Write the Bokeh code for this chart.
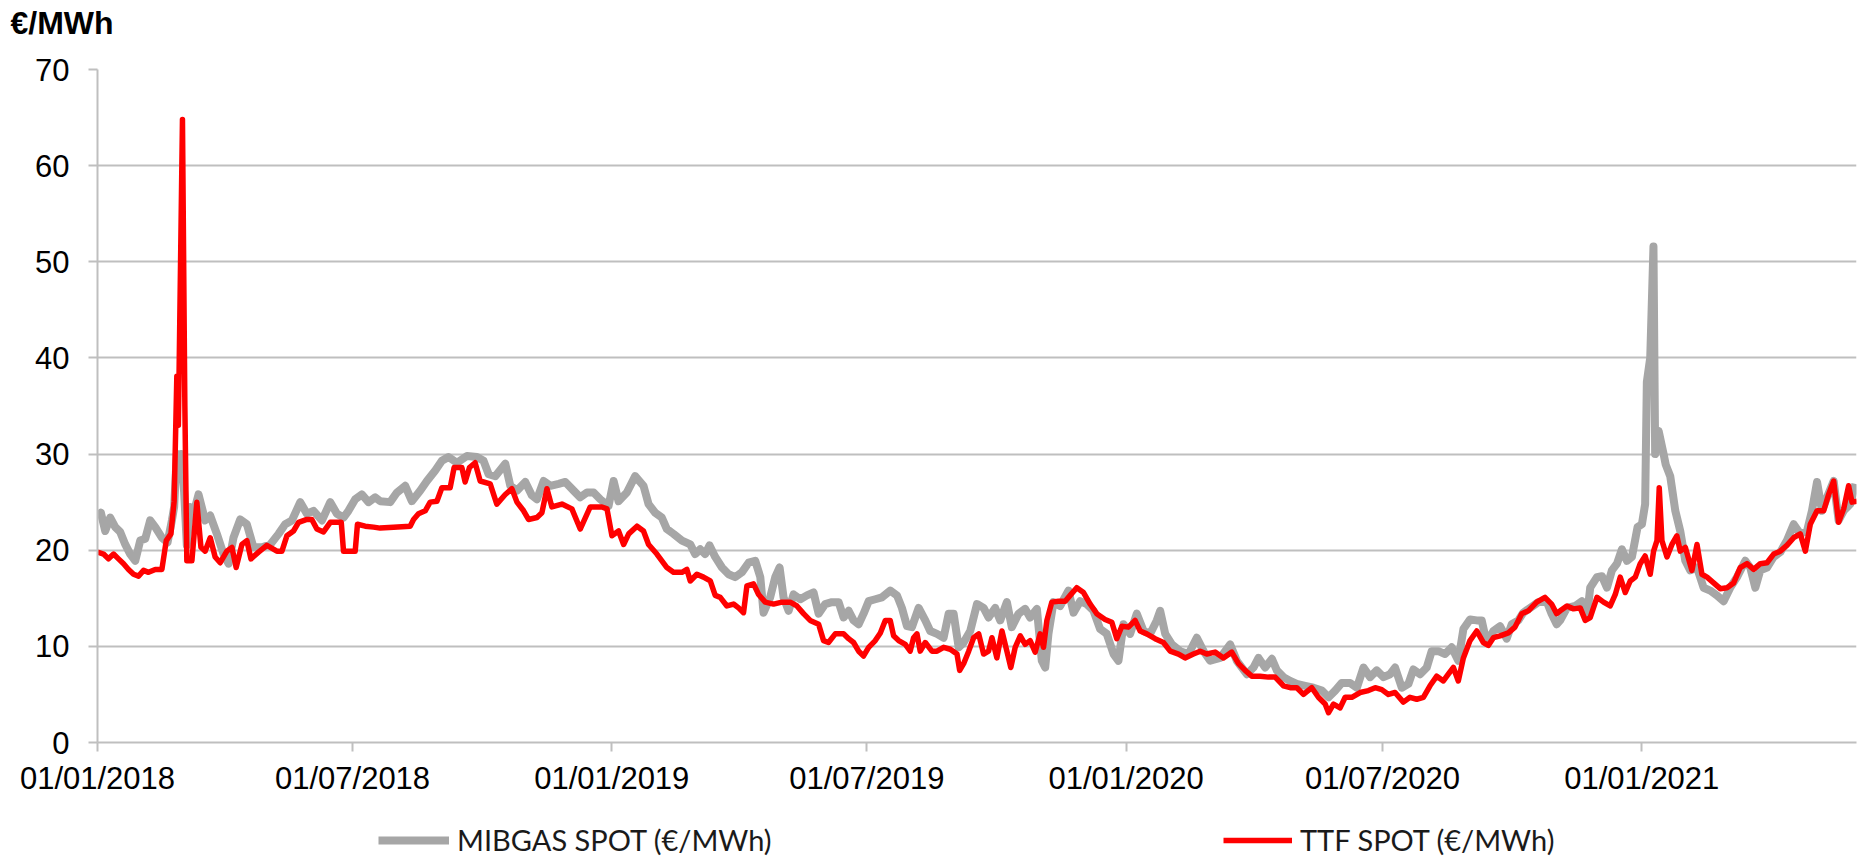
import pandas as pd
from bokeh.plotting import figure
from bokeh.layouts import column
from bokeh.models import (Range1d, FixedTicker, DatetimeTickFormatter, Legend,
                          LegendItem, Label)
from bokeh.embed import file_html
from bokeh.resources import INLINE

# ---------------- data ----------------
start_date = "2018-01-01"

# days after 01/01/2018, MIBGAS spot (EUR/MWh)
mib_days = [0, 2.4, 5.5, 9, 12.6, 16.1, 19.7, 23.2, 26.8, 30.3, 33.9, 37.4, 41, 45.7, 49.7, 52.8,
            54.4, 56.3, 57.5, 59.5, 61.5, 63.4, 65.8, 68.1, 71.7, 76.4, 80, 84.7, 89.4, 93, 96.5,
            101.3, 106, 110.7, 116.7, 122.6, 128.5, 133.2, 138, 143.9, 148.6, 153.3, 159.3, 165.2,
            169.9, 174.6, 178.1, 182.9, 187.6, 192.3, 197.1,
            200.6, 207.7, 212.5, 218.4, 223.1, 229.1, 233.8, 239.7, 244.4, 249.1, 255.1, 262.2,
            269.3, 274, 277.6, 282.3, 289.4, 293, 297.7, 303.6, 308.3, 311.9, 316.6, 321.4, 327.3,
            332, 337.9, 342.6, 347.4, 352.1, 356.8, 362.7, 366.3, 369.8, 375.7, 381.6, 387.5,
            391.1, 395.8, 400.5, 404.1, 408.8, 414.8,
            420.7, 424.2, 427.8, 431.3, 434.4, 438.4, 443.2, 447.9, 452.6, 457.3, 462.1, 466.8,
            470.4, 472.7, 477.4, 481, 484.1, 486.9, 490.5, 494, 498.8, 503.5, 508.2, 511.8, 516.5,
            521.2, 526, 529.5, 533.1, 536.6, 540.2, 543.7, 547.3, 552, 556.7, 562.6, 567.4, 570.9,
            574.5, 578, 582.8, 587.5, 591, 595.8, 600.5, 604.1, 607.6, 611.2, 614.7, 619.4, 624.2,
            628.9, 632.4,
            637.1, 640.7, 645.4, 648.9, 653.7, 658.4, 661.9, 666.7, 670.2, 672.6, 674.9, 678.5,
            683.2, 689.1, 692.7, 697.4, 702.1, 706.9, 711.6, 716.3, 721.1, 724.6, 728.2, 732.9,
            737.6, 742.4, 747.1, 751.8, 754.2, 757.8, 762.5, 768.4, 774.3, 780.2, 785, 789.7,
            796.8, 803.9, 808.6, 815.7, 820.4, 824, 828.7, 833.5, 837, 841.7,
            846.5, 851.2, 857.1, 863, 869, 873.7, 878.4, 883.1, 889, 893.8, 898.5, 903.2, 907.9,
            912.7, 917.4, 920.9, 925.7, 930.4, 933.9, 938.7, 943.4, 946.9, 951.7, 956.4, 961.1,
            965.8, 969.4, 974.1, 978.9, 982.4, 985.9, 990.7, 995.4, 1000.1, 1003.7, 1008.4,
            1011.9, 1016.7, 1022.6, 1028.5, 1032, 1035.6,
            1038.1, 1042.9, 1048.8, 1053.5, 1057.1, 1059.4, 1064.2, 1067.7, 1071.3, 1074.8,
            1078.4, 1081.9, 1085.5, 1089, 1093, 1096.1, 1098.4, 1099.6, 1102, 1104.3, 1105.5,
            1108, 1111.5, 1113, 1116.2, 1119.8, 1123.3, 1126.9, 1130.4, 1135.2, 1139.9, 1144.6,
            1149.4, 1154.1, 1158.8, 1163.6, 1169.5, 1173, 1176.6, 1180.1, 1184.9, 1189.6, 1194.3,
            1199, 1203.8, 1208.5, 1213.3, 1216.8, 1220.4, 1223.9, 1227.5, 1232.2, 1235.7, 1239.3,
            1244, 1247.6]
mib_vals = [23.6, 23.9, 22.0, 23.4, 22.4, 21.9, 20.6, 19.6, 18.9, 21.0, 21.2, 23.1, 22.4, 21.3, 20.8, 23.1,
            24.5, 30.0, 28.0, 30.0, 26.0, 20.5, 24.5, 23.8, 25.8, 23.1, 23.6, 21.7, 19.6, 18.6, 21.3,
            23.2, 22.7, 20.3, 20.3, 20.6, 21.7, 22.7, 23.1, 25.0, 23.8, 24.1, 23.1, 25.0,
            23.8, 23.4, 24.1, 25.3, 25.8, 25.0, 25.5,
            25.1, 25.0, 26.0, 26.7, 25.1, 26.2, 27.2, 28.3, 29.3, 29.7, 29.1, 29.8,
            29.7, 29.3, 27.9, 27.7, 29.0, 26.7, 26.2, 27.1, 25.7, 25.3, 27.2, 26.7, 26.9,
            27.1, 26.2, 25.5, 26.0, 26.0, 25.3, 24.6, 27.2, 25.1, 26.0, 27.7, 26.7,
            24.8, 23.9, 23.4, 22.2, 21.7, 21.0,
            20.6, 19.6, 20.1, 19.6, 20.5, 19.3, 18.2, 17.5, 17.2, 17.7, 18.7, 18.9,
            17.2, 13.5, 15.1, 17.2, 18.2, 15.1, 13.7, 15.4, 14.9, 15.3, 15.6, 13.4, 14.4,
            14.6, 14.6, 13.0, 13.7, 12.7, 12.3, 13.4, 14.7, 14.9, 15.1, 15.8, 15.3, 14.0,
            12.1, 12.0, 14.0, 12.7, 11.6, 11.3, 10.9, 13.4, 13.4, 9.9, 10.4, 11.6, 14.4,
            14.0, 13.0,
            14.0, 12.7, 14.6, 12.0, 13.4, 13.9, 13.0, 13.9, 8.5, 7.8, 11.3, 14.6,
            14.2, 15.8, 13.5, 14.7, 14.4, 13.7, 11.8, 11.3, 9.2, 8.5, 12.3, 11.3,
            13.4, 11.6, 11.3, 12.7, 13.7, 11.3, 10.2, 9.5, 9.2, 10.9, 9.5, 8.5,
            8.8, 10.2, 8.5, 7.1, 7.8, 8.8, 7.8, 8.7, 7.5, 6.8,
            6.4, 6.1, 5.9, 5.7, 5.4, 4.7, 5.4, 6.2, 6.2, 5.7, 7.8, 6.8, 7.5,
            6.8, 7.1, 7.8, 5.7, 6.1, 7.6, 7.1, 7.8, 9.5, 9.5, 9.2, 9.9,
            8.5, 11.8, 12.8, 12.7, 12.7, 10.4, 11.6, 12.1, 10.8, 12.3, 12.7,
            13.5, 14.0, 14.6, 14.7, 13.4, 12.3,
            12.7, 14.0, 14.2, 14.7, 13.0, 16.1, 17.2, 17.3, 16.1, 17.9,
            18.6, 20.1, 18.9, 19.3, 22.4, 22.7, 24.8, 37.5, 40.0, 51.6, 30.0,
            32.4, 30.0, 28.9, 27.7, 24.1, 22.0, 18.9, 17.9, 18.2, 16.1, 15.8,
            15.3, 14.7, 16.1, 17.2, 18.9, 18.2, 16.1, 17.9, 18.2, 19.3, 19.8,
            21.0, 22.7, 21.7, 22.0, 24.1, 27.1, 24.1, 25.5, 27.2, 23.1, 24.1,
            24.8, 26.9]

# days after 01/01/2018, TTF spot (EUR/MWh)
ttf_days = [0, 4.3, 7.8, 11.4, 14.9, 18.5, 22, 25.6, 29.1, 32.7, 36.2, 41, 45.7, 48.8, 52.1, 54.4,
            56.3, 57.4, 60.3, 62, 63.4, 67, 70.5, 73.4, 76.4, 80, 83.5, 87.1, 91.8, 95.4, 98.4,
            102.5, 106, 108.9, 114.3, 120.2, 127.3, 130.9, 134.4, 139.1, 142.7, 148.6, 152.1,
            155.7, 160.4, 165.2, 173, 174.6, 182.9, 184.5, 190, 195.9,
            200.6, 210.1, 221.9, 224.3, 227.8, 232.6, 236.1, 240.9, 244.4, 250.3, 253.1, 258.6,
            260.9, 264, 268, 271.6, 278.7, 283.4, 289.4, 294.1, 297.7, 302.4, 305.9, 311.9, 315.4,
            319, 322.5, 329.6, 336.7, 342.6, 349.7, 358, 361.6, 365.1, 369.8, 373.4, 377, 382.9,
            387.5, 391.1, 397, 404.1, 408.8, 414.8, 418.3,
            420.7, 425.4, 430.1, 434.9, 438.4, 442, 446.7, 451.4, 455, 458.5, 460.9, 465.6, 469.2,
            473.9, 479.8, 485.7, 491.6, 496.4, 501.1, 505.8, 511.8, 515.3, 518.8, 523.6, 529.5,
            533.1, 536.6, 540.2, 543.7, 547.3, 552, 555.6, 559.1, 562.6, 565, 568.6, 573.3, 576.8,
            579.2, 581.6, 583.9, 587.5, 592.2, 595.8, 600.5, 605.2, 610, 611.9, 614.7, 618.3,
            621.8, 625.4, 628.9, 632.4, 634.8, 638.3, 641.9,
            645.4, 648.2, 651.3, 654.9, 658.4, 661.9, 665.5, 669, 671.4, 673.8, 677.3, 682, 686.8,
            690.3, 695, 699.8, 704.5, 709.2, 715.1, 719.9, 723.4, 727, 731.7, 736.4, 740, 744.7,
            750.6, 756.5, 761.3, 767.2, 771.9, 777.8, 782.6, 787.3, 793.2, 799.1, 805, 809.8,
            814.5, 819.2, 825.1, 831, 835.8, 841.7,
            846.5, 851.2, 855.9, 861.8, 866.5, 871.3, 873.7, 877.2, 881.9, 885.5, 890.2, 896.1,
            902, 906.8, 911.5, 916.2, 920.9, 926.8, 931.5, 936.3, 941, 945.7, 950.5, 955.2, 958.7,
            962.3, 965.8, 969.4, 974.1, 978.9, 983.6, 987.1, 990.7, 995.4, 1001.3, 1006, 1010.8,
            1015.5, 1021.4, 1027.3, 1032, 1035.6,
            1038.1, 1042.9, 1047.6, 1052.3, 1055.9, 1059.4, 1064.2, 1068.9, 1073.6, 1077.2,
            1080.7, 1084.3, 1087.8, 1091.4, 1094.9, 1098.4, 1102, 1104.4, 1106.8, 1108.4, 1110.3,
            1113.9, 1117.4, 1120.9, 1123.3, 1126.9, 1131.6, 1135.2, 1138.7, 1142.3, 1147, 1151.7,
            1156.5, 1161.2, 1165.9, 1170.7, 1175.4, 1180.1, 1184.9, 1189.6, 1194.3, 1199, 1203.8,
            1208.5, 1212.1, 1215.6, 1220.4, 1225.1, 1228.6, 1232.2, 1235.7, 1239.3, 1242.8,
            1245.2, 1248.8]
ttf_vals = [19.8, 19.6, 19.1, 19.6, 19.1, 18.6, 18.0, 17.5, 17.3, 17.9, 17.7, 18.0, 18.0, 21.0, 21.7, 25.1,
            38.1, 33.0, 64.8, 35.0, 18.9, 18.9, 25.0, 20.3, 19.9, 21.3, 19.3, 18.7, 19.9, 20.3, 18.2,
            20.6, 21.0, 19.1, 19.8, 20.5, 19.9, 19.9, 21.5, 22.0, 22.9, 23.2, 23.2,
            22.2, 21.9, 22.9, 22.9, 19.9, 19.9, 22.7, 22.5, 22.4,
            22.3, 22.4, 22.5, 23.2, 23.8, 24.1, 25.0, 25.1, 26.5, 26.5, 28.6, 28.6,
            27.1, 28.6, 29.1, 27.2, 26.9, 24.8, 25.8, 26.4, 25.0, 24.1, 23.2, 23.4, 23.9,
            26.4, 24.5, 24.8, 24.3, 22.2, 24.5, 24.5, 24.3, 21.5, 22.0, 20.6, 21.7, 22.5,
            22.0, 20.6, 19.6, 18.2, 17.7, 17.7, 18.0,
            16.8, 17.5, 17.2, 16.8, 15.3, 15.1, 14.2, 14.4, 14.0, 13.5, 16.3, 16.5, 15.4,
            14.6, 14.4, 14.6, 14.6, 14.2, 13.4, 12.7, 12.3, 10.6, 10.4, 11.3, 11.3,
            10.8, 10.4, 9.5, 9.0, 9.9, 10.6, 11.4, 12.7, 12.7, 11.1, 10.6, 10.2, 9.5,
            10.9, 11.3, 9.5, 10.4, 9.5, 9.5, 9.9, 9.7, 9.2, 7.5, 8.2, 9.5,
            10.9, 11.3, 9.2, 9.5, 10.9, 8.8, 11.6,
            9.5, 7.8, 9.9, 11.1, 10.2, 10.6, 9.4, 11.3, 9.9, 12.7, 14.6, 14.7, 14.7,
            15.3, 16.1, 15.6, 14.4, 13.4, 12.8, 12.5, 10.8, 12.1, 12.0, 12.7, 11.6, 11.3,
            10.8, 10.4, 9.5, 9.2, 8.8, 9.2, 9.5, 9.2, 9.4, 8.8, 9.4, 8.2,
            7.5, 6.9, 6.9, 6.8, 6.8, 5.9,
            5.7, 5.7, 5.0, 5.7, 4.7, 4.0, 3.1, 4.0, 3.6, 4.7, 4.7, 5.2,
            5.4, 5.7, 5.5, 5.0, 5.2, 4.2, 4.7, 4.5, 4.7, 5.9, 6.9, 6.4, 7.1,
            7.8, 6.4, 8.8, 10.6, 11.6, 10.4, 10.1, 10.9, 11.1, 11.4, 12.0, 13.4,
            13.7, 14.6, 15.1, 14.4, 13.4,
            13.7, 14.2, 13.9, 14.0, 12.7, 13.0, 15.1, 14.6, 14.2, 15.4,
            17.2, 15.6, 16.8, 17.2, 18.6, 19.4, 17.5, 19.9, 21.0, 26.5, 21.0,
            19.3, 20.6, 21.5, 19.9, 20.3, 17.9, 20.6, 17.5, 17.2, 16.6, 16.0,
            16.1, 16.6, 18.2, 18.6, 18.0, 18.6, 18.7, 19.6, 19.9, 20.5, 21.3,
            21.7, 19.9, 22.7, 24.1, 24.1, 25.8, 27.2, 22.9, 24.3, 26.7,
            25.0, 25.1]

x_tick_labels = ["01/01/2018", "01/07/2018", "01/01/2019", "01/07/2019",
                 "01/01/2020", "01/07/2020", "01/01/2021"]
y_ticks = [0, 10, 20, 30, 40, 50, 60, 70]
series_names = ["MIBGAS SPOT (€/MWh)", "TTF SPOT (€/MWh)"]
unit_label = "€/MWh"

# ---------------- build ----------------
W = 1862
TOP_H, MAIN_H, LEG_H = 50, 750, 59

base = pd.Timestamp(start_date)
mib_x = base + pd.to_timedelta(mib_days, unit="D")
ttf_x = base + pd.to_timedelta(ttf_days, unit="D")

MS_DAY = 86400000.0
base_ms = base.value / 1e6
x_end_ms = base_ms + 1248.4 * MS_DAY
tick_ms = [pd.to_datetime(t, dayfirst=True).value / 1e6 for t in x_tick_labels]

GRID = "#BFBFBF"
GRAY = "#A6A6A6"
RED = "#FF0000"
GRAY_W, RED_W = 8, 5.5


def blank_fig(h):
    f = figure(width=W, height=h, output_backend="svg", toolbar_location=None,
               x_range=Range1d(0, 1), y_range=Range1d(0, 1),
               x_axis_location=None, y_axis_location=None, min_border=0)
    f.frame_align = False
    f.grid.visible = False
    f.outline_line_color = None
    f.background_fill_color = "white"
    f.border_fill_color = "white"
    return f


# --- top strip: unit label ---
p_top = blank_fig(TOP_H)
p_top.add_layout(Label(x=10, y=28, x_units="screen", y_units="screen",
                       text=unit_label, text_font="Liberation Sans",
                       text_font_size="32px", text_font_style="bold",
                       text_color="#000000", text_baseline="alphabetic",
                       text_align="left"))

# --- main chart ---
p = figure(width=W, height=MAIN_H, output_backend="svg", toolbar_location=None,
           x_axis_type="datetime",
           x_range=Range1d(base_ms, x_end_ms), y_range=Range1d(0, 70),
           min_border_left=97, min_border_right=6, min_border_top=19,
           min_border_bottom=58)
p.outline_line_color = None
p.background_fill_color = "white"
p.border_fill_color = "white"

p.line(mib_x, mib_vals, line_color=GRAY, line_width=GRAY_W, line_join="round")
p.line(ttf_x, ttf_vals, line_color=RED, line_width=RED_W, line_join="round")

p.xaxis.ticker = FixedTicker(ticks=tick_ms)
p.xaxis.formatter = DatetimeTickFormatter(days="%d/%m/%Y", months="%d/%m/%Y",
                                          years="%d/%m/%Y")
p.yaxis.ticker = FixedTicker(ticks=y_ticks)
for ax in (p.xaxis[0], p.yaxis[0]):
    ax.axis_line_color = GRID
    ax.axis_line_width = 2
    ax.major_tick_line_color = GRID
    ax.major_tick_line_width = 2
    ax.major_tick_out = 9
    ax.major_tick_in = 0
    ax.minor_tick_line_color = None
    ax.major_label_text_font = "Liberation Sans"
    ax.major_label_text_font_size = "31px"
    ax.major_label_text_color = "#000000"
p.yaxis.major_label_standoff = 19
p.xaxis.major_label_standoff = 9

p.xgrid.grid_line_color = None
p.ygrid.grid_line_color = GRID
p.ygrid.grid_line_width = 2

# --- bottom strip: legend (sample renderers hold off-range placeholder points) ---
p_leg = blank_fig(LEG_H)
lr_mib = p_leg.line(x=[5, 6], y=[5, 6], line_color=GRAY, line_width=GRAY_W)
lr_ttf = p_leg.line(x=[5, 6], y=[5, 6], line_color=RED, line_width=RED_W)


def make_legend(name, rend, x, glyph_w):
    return Legend(items=[LegendItem(label=name, renderers=[rend])], location=(x, 2),
                  orientation="horizontal", padding=0, margin=0, spacing=0,
                  glyph_width=glyph_w, glyph_height=30, label_height=30,
                  label_standoff=8, label_text_font="Lato",
                  label_text_font_size="29px", label_text_color="#1a1a1a",
                  border_line_color=None, background_fill_alpha=0)


p_leg.add_layout(make_legend(series_names[0], lr_mib, 378, 71))
p_leg.add_layout(make_legend(series_names[1], lr_ttf, 1223, 69))

layout = column(p_top, p, p_leg, spacing=0)
open("out.html", "w").write(file_html(layout, INLINE))
